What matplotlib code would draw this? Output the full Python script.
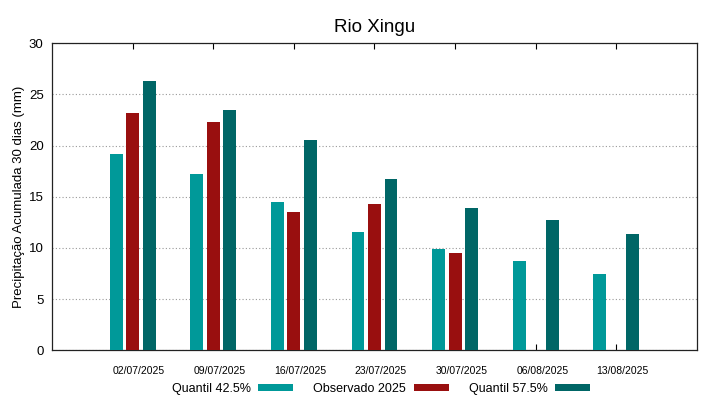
import matplotlib.pyplot as plt
import numpy as np

plt.rcParams['font.family'] = ['Liberation Sans', 'DejaVu Sans']

datas = ['02/07/2025', '09/07/2025', '16/07/2025', '23/07/2025',
         '30/07/2025', '06/08/2025', '13/08/2025']
quantil_425 = [19.2, 17.25, 14.5, 11.6, 9.9, 8.7, 7.45]
observado = [23.2, 22.25, 13.55, 14.25, 9.5, np.nan, np.nan]
quantil_575 = [26.25, 23.5, 20.55, 16.75, 13.85, 12.75, 11.35]

cor_q1 = '#009999'
cor_obs = '#990f0f'
cor_q2 = '#006666'

fig, ax = plt.subplots(figsize=(7.19, 3.99), dpi=100)
fig.subplots_adjust(left=0.0723, right=0.9694, top=0.892, bottom=0.122)

x = np.arange(len(datas))
w = 0.16
dx = 0.205

ax.bar(x - dx, quantil_425, w, color=cor_q1, label='Quantil 42.5%', zorder=3)
ax.bar(x, observado, w, color=cor_obs, label='Observado 2025', zorder=3)
ax.bar(x + dx, quantil_575, w, color=cor_q2, label='Quantil 57.5%', zorder=3)

ax.set_xlim(-1, 7)
ax.set_ylim(0, 30)
ax.set_yticks(range(0, 31, 5))

# tick marks at the group centre, labels shifted a little to the right (gnuplot style)
ax.set_xticks(x)
ax.set_xticklabels([])
ax.set_xticks(x + 0.08, minor=True)
ax.set_xticklabels(datas, minor=True, fontsize=7.5)
ax.tick_params(axis='x', which='major', direction='in', length=4, top=True, width=0.8)
ax.tick_params(axis='x', which='minor', length=0, pad=11)
ax.tick_params(axis='y', direction='in', length=0, labelsize=9.5, pad=6)
ax.yaxis.grid(True, linestyle=(0, (1, 2)), color='#999999', linewidth=0.8, zorder=0)

for s in ax.spines.values():
    s.set_linewidth(0.9)
    s.set_color('#222222')

ax.set_ylabel('Precipitação Acumulada 30 dias (mm)', fontsize=9.5, labelpad=3)
ax.set_title('Rio Xingu', fontsize=13.5, pad=8)

ax.legend(loc='upper center', bbox_to_anchor=(0.51, -0.07), ncol=3, frameon=False,
          markerfirst=False, fontsize=9, handlelength=2.8, handleheight=0.45,
          columnspacing=1.6, handletextpad=0.6)

fig.savefig('out.png', dpi=100)
